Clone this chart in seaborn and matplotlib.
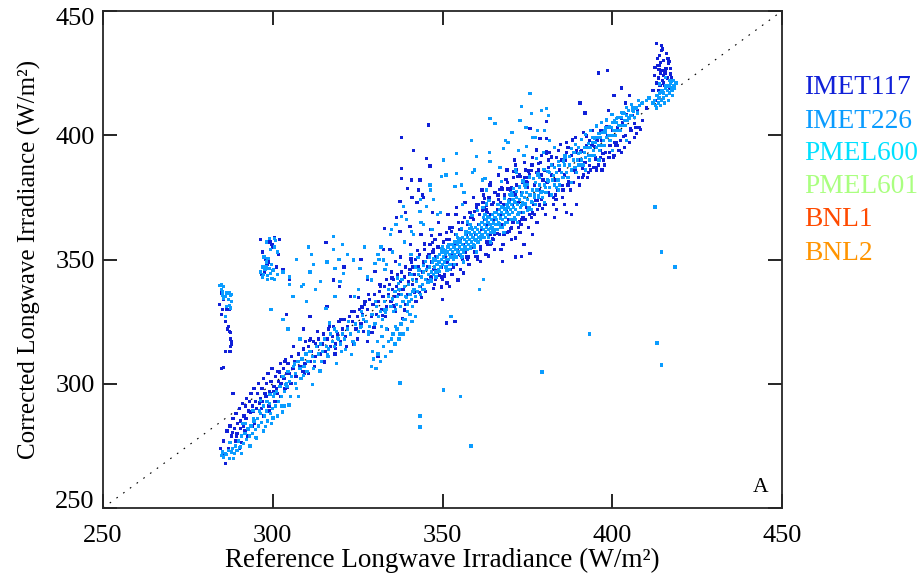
import pandas as pd
import matplotlib.pyplot as plt
import matplotlib.transforms as mtransforms
import seaborn as sns

series_names = ["IMET117", "IMET226", "PMEL600", "PMEL601", "BNL1", "BNL2"]
series_colors = ["#1020d8", "#0a9cff", "#00e0ff", "#aaff80", "#ff4a00", "#ff9400"]
axis_ticks = [250, 300, 350, 400, 450]

# values, dark instrument
imet117_x = [
    284.4, 284.9, 285.2, 285.6, 285.0, 286.4, 286.1, 287.3, 287.0, 286.6,
    287.6, 287.8, 287.5, 287.9, 287.2, 287.6, 287.4, 285.5, 284.9, 286.0,
    288.3, 284.7, 285.2, 285.6, 286.1, 286.5, 287.0, 287.4, 287.8, 288.3,
    288.7, 289.2, 289.6, 290.1, 290.5, 291.0, 291.4, 291.9, 292.3, 292.8,
    289.0, 289.5, 290.4, 291.3, 292.1, 293.2, 293.6, 294.1, 294.5, 295.0,
    295.4, 295.9, 296.3, 296.8, 297.2, 297.7, 298.1, 298.6, 299.0, 299.5,
    299.9, 300.4, 300.8, 301.3, 301.7, 302.2, 302.6, 303.1, 303.5, 304.0,
    294.4, 295.2, 296.1, 297.0, 298.0, 299.2, 300.2, 301.1, 302.4, 303.3,
    304.5, 305.0, 305.5, 306.0, 306.5, 307.0, 307.5, 308.0, 308.5, 309.0,
    309.5, 310.0, 310.5, 311.0, 311.5, 312.0, 312.5, 313.0, 313.5, 314.0,
    314.5, 315.0, 315.5, 316.0, 316.5, 317.0, 317.5, 318.0, 318.5, 319.0,
    319.5, 320.0, 320.5, 321.0, 321.5, 322.0, 322.5, 323.0, 323.5, 324.0,
    324.5, 325.0, 325.5, 326.0, 326.5, 327.0, 327.5, 328.0, 328.5, 329.0,
    329.5, 330.0, 330.5, 331.0, 331.5, 332.0, 332.5, 333.0, 333.5, 334.0,
    334.4, 334.8, 335.2, 335.6, 336.0, 336.4, 336.8, 337.2, 337.6, 338.0,
    338.4, 338.8, 339.2, 339.6, 340.0, 340.4, 340.8, 341.2, 341.6, 342.0,
    342.4, 342.8, 343.2, 343.6, 344.0, 344.4, 344.8, 345.2, 345.6, 346.0,
    346.3, 346.6, 346.9, 347.2, 347.5, 347.8, 348.1, 348.4, 348.7, 349.0,
    349.3, 349.6, 349.9, 350.2, 350.5, 350.8, 351.1, 351.4, 351.7, 352.0,
    352.3, 352.6, 352.9, 353.2, 353.5, 353.8, 354.1, 354.4, 354.7, 355.0,
    355.3, 355.6, 355.9, 356.2, 356.5, 356.8, 357.1, 357.4, 357.7, 358.0,
    358.3, 358.6, 358.9, 359.2, 359.5, 359.8, 360.1, 360.4, 360.7, 361.0,
    361.3, 361.6, 361.9, 362.2, 362.5, 362.8, 363.1, 363.4, 363.7, 364.0,
    364.3, 364.6, 364.9, 365.2, 365.5, 365.8, 366.1, 366.4, 366.7, 367.0,
    367.3, 367.6, 367.9, 368.2, 368.5, 368.8, 369.1, 369.4, 369.7, 370.0,
    370.3, 370.6, 370.9, 371.2, 371.5, 371.8, 372.1, 372.4, 372.7, 373.0,
    373.3, 373.6, 373.9, 374.2, 374.5, 374.8, 375.1, 375.4, 375.7, 376.0,
    376.4, 376.8, 377.2, 377.6, 378.0, 378.4, 378.8, 379.2, 379.6, 380.0,
    380.4, 380.8, 381.2, 381.6, 382.0, 382.4, 382.8, 383.2, 383.6, 384.0,
    384.5, 385.0, 385.5, 386.0, 386.5, 387.0, 387.5, 388.0, 388.5, 389.0,
    389.5, 390.0, 390.5, 391.0, 391.5, 392.0, 392.5, 393.0, 393.5, 394.0,
    394.5, 395.0, 395.5, 396.0, 396.5, 397.0, 397.5, 398.0, 398.5, 399.0,
    399.5, 400.0, 400.5, 401.0, 401.5, 402.0, 402.5, 403.0, 403.5, 404.0,
    404.5, 405.0, 405.5, 406.0, 406.5, 407.0, 407.5, 408.0, 409.0, 410.0,
    412.0, 412.5, 413.0, 413.3, 413.6, 413.9, 414.2, 414.5, 414.8, 415.1,
    415.4, 415.7, 416.0, 416.3, 416.6, 416.9, 417.2, 417.5, 412.8, 413.4,
    414.0, 414.6, 415.2, 415.8, 416.4, 414.1, 414.7, 415.0, 413.7, 415.5,
    # scatter above and below the band
    345.8, 338.0, 341.4, 338.0, 338.0, 345.3, 346.3, 343.4, 339.7, 342.9,
    337.5, 340.9, 333.0, 337.5, 340.4, 315.7, 332.6, 330.1, 317.8, 319.6,
    380.7, 378.7, 371.3, 380.7, 377.7, 370.9, 372.8, 375.8, 380.7, 375.8,
    373.3, 367.7, 353.7, 351.2, 396.0, 398.5, 402.8, 400.5, 405.0, 392.0,
    390.5, 388.0, 386.0, 383.0, 376.5, 374.0, 371.5, 369.0, 366.5, 364.0,
    362.0, 360.0, 358.0, 356.0, 354.0, 352.0, 350.0, 348.0, 344.5, 342.5,
    336.5, 334.5, 331.0, 328.0, 326.0, 323.0, 321.0, 297.0, 298.0, 299.2,
    300.0, 301.0, 296.5, 297.6, 298.6, 299.8, 301.6, 302.0, 296.8, 298.3,
    300.6, 297.4, 303.0, 305.0, 311.0, 316.0, 304.0, 309.0, 339.0, 341.0,
    344.0, 347.0, 383.5, 386.5, 389.5, 393.5, 397.0, 404.0, 387.0, 399.0,
    # second pass over the band, off the regular rows
    288.1, 293.4, 290.7, 296.2, 301.9, 298.8, 304.3, 291.6, 299.6, 306.7,
    303.8, 309.3, 312.7, 315.3, 310.8, 318.4, 320.9, 323.7, 326.3, 329.8,
    332.3, 327.2, 335.7, 333.4, 338.9, 341.7, 336.2, 340.2, 343.3, 345.9,
    342.7, 347.4, 349.1, 344.6, 351.3, 353.4, 346.8, 350.6, 355.2, 352.7,
    348.3, 354.9, 357.3, 359.4, 356.7, 361.2, 358.8, 360.6, 363.3, 365.4,
    362.4, 367.2, 364.8, 369.3, 366.2, 371.4, 368.7, 373.4, 370.2, 375.3,
    372.6, 377.3, 374.7, 379.4, 376.2, 381.3, 378.2, 383.4, 380.6, 385.3,
    382.2, 387.2, 384.7, 389.3, 386.3, 391.2, 388.4, 393.3, 390.8, 395.2,
    392.4, 397.3, 394.8, 399.2, 396.7, 401.2, 398.3, 403.3, 400.7, 405.3,
    402.8, 407.2, 404.3, 406.6, 408.4, 362.9, 364.4, 366.8, 368.3, 370.8,
    372.2, 374.4, 376.6, 378.6, 356.1, 358.4, 360.2, 352.1, 354.6, 349.7,
    347.1, 343.8, 340.7, 338.2, 335.1, 333.8, 331.7, 329.2, 327.8, 325.3,
    365.1, 367.7, 369.6, 371.7, 373.7, 375.6, 377.9, 363.6, 361.7, 359.9,
    413.1, 413.8, 414.3, 414.9, 415.3, 415.9, 416.2, 416.7, 417.1, 412.6,
    # third pass, the outer edges of the band
    289.4, 291.8, 293.9, 295.6, 297.4, 299.1, 300.7, 302.3, 290.2, 292.6,
    294.7, 296.6, 298.9, 301.4, 303.6, 305.4, 307.1, 308.9, 310.6, 312.3,
    306.2, 309.7, 311.2, 313.2, 315.1, 316.8, 318.3, 320.1, 321.7, 323.3,
    324.9, 326.7, 328.3, 329.9, 331.6, 333.3, 334.9, 336.1, 337.7, 339.1,
    340.6, 342.2, 343.7, 345.1, 346.4, 347.6, 348.9, 350.1, 351.6, 352.8,
    354.1, 355.4, 356.6, 357.8, 359.1, 360.3, 361.6, 362.8, 364.1, 365.3,
    366.6, 367.8, 369.1, 370.3, 371.6, 372.8, 374.1, 375.3, 376.6, 377.8,
    379.1, 380.3, 381.6, 382.8, 384.1, 385.3, 386.6, 387.8, 389.1, 390.3,
    391.6, 392.8, 394.1, 395.3, 396.6, 397.8, 399.1, 400.3, 401.6, 402.8,
    341.1, 343.4, 345.6, 347.3, 349.6, 351.1, 353.2, 355.1, 357.2, 359.1,
    361.1, 363.1, 365.1, 367.1, 369.1, 371.1, 373.1, 375.1, 377.1, 379.1,
    362.3, 364.2, 366.3, 368.1, 370.3, 372.3, 374.3, 376.3, 378.3, 380.2,
    381.2, 383.2, 385.2, 387.2, 389.2, 391.2, 393.2, 395.2, 397.2, 399.2,
]
imet117_y = [
    332.0, 336.5, 330.0, 334.0, 328.0, 330.0, 325.0, 330.0, 323.0, 322.0,
    320.5, 317.0, 318.0, 316.0, 321.0, 315.0, 313.0, 306.5, 306.0, 313.0,
    296.0, 274.0, 271.0, 277.0, 268.0, 281.0, 274.0, 283.0, 279.0, 286.0,
    282.0, 288.0, 284.0, 290.0, 285.0, 292.0, 287.0, 291.0, 294.0, 289.0,
    277.0, 280.0, 282.0, 283.0, 286.0, 293.0, 296.0, 291.0, 298.0, 293.0,
    296.0, 300.0, 294.0, 298.0, 302.0, 296.0, 300.0, 304.0, 297.0, 301.0,
    306.0, 299.0, 303.0, 305.0, 301.0, 308.0, 303.0, 306.0, 309.0, 304.0,
    289.0, 290.0, 292.0, 293.0, 295.0, 296.0, 297.0, 298.0, 300.0, 302.0,
    308.0, 304.0, 311.0, 306.0, 309.0, 303.0, 312.0, 307.0, 310.0, 314.0,
    308.0, 312.0, 315.0, 309.0, 313.0, 317.0, 311.0, 315.0, 318.0, 312.0,
    316.0, 320.0, 313.0, 318.0, 322.0, 315.0, 319.0, 323.0, 316.0, 320.0,
    325.0, 317.0, 322.0, 326.0, 319.0, 323.0, 327.0, 320.0, 325.0, 329.0,
    322.0, 327.0, 330.0, 324.0, 328.0, 332.0, 325.0, 330.0, 334.0, 327.0,
    332.0, 336.0, 328.0, 333.0, 337.0, 330.0, 335.0, 339.0, 331.0, 336.0,
    340.0, 333.0, 338.0, 342.0, 335.0, 339.0, 344.0, 336.0, 341.0, 345.0,
    338.0, 343.0, 347.0, 336.0, 341.0, 346.0, 349.0, 340.0, 344.0, 350.0,
    342.0, 347.0, 352.0, 339.0, 345.0, 349.0, 354.0, 342.0, 347.0, 352.0,
    356.0, 343.0, 349.0, 353.0, 346.0, 358.0, 351.0, 345.0, 355.0, 349.0,
    360.0, 347.0, 353.0, 357.0, 344.0, 351.0, 361.0, 349.0, 355.0, 358.0,
    346.0, 352.0, 363.0, 350.0, 356.0, 360.0, 348.0, 354.0, 365.0, 352.0,
    358.0, 362.0, 350.0, 356.0, 367.0, 353.0, 360.0, 364.0, 351.0, 358.0,
    369.0, 355.0, 362.0, 366.0, 353.0, 360.0, 371.0, 357.0, 364.0, 368.0,
    355.0, 362.0, 373.0, 359.0, 366.0, 370.0, 357.0, 364.0, 375.0, 360.0,
    368.0, 372.0, 358.0, 366.0, 377.0, 362.0, 370.0, 374.0, 360.0, 368.0,
    379.0, 364.0, 372.0, 376.0, 361.0, 370.0, 381.0, 366.0, 374.0, 378.0,
    363.0, 372.0, 383.0, 367.0, 376.0, 380.0, 365.0, 373.0, 384.0, 369.0,
    377.0, 381.0, 366.0, 375.0, 386.0, 371.0, 379.0, 383.0, 368.0, 376.0,
    388.0, 372.0, 380.0, 385.0, 370.0, 378.0, 389.0, 374.0, 382.0, 386.0,
    372.0, 381.0, 390.0, 376.0, 384.0, 388.0, 375.0, 382.0, 391.0, 378.0,
    386.0, 390.0, 378.0, 384.0, 393.0, 380.0, 388.0, 392.0, 381.0, 386.0,
    394.0, 383.0, 390.0, 394.0, 384.0, 389.0, 396.0, 385.0, 392.0, 396.0,
    387.0, 391.0, 398.0, 388.0, 394.0, 398.0, 390.0, 393.0, 400.0, 391.0,
    396.0, 402.0, 392.0, 396.0, 403.0, 394.0, 398.0, 405.0, 395.0, 400.0,
    406.0, 397.0, 402.0, 408.0, 399.0, 403.0, 410.0, 403.0, 406.0, 411.0,
    418.0, 424.0, 421.0, 428.0, 418.0, 432.0, 425.0, 436.0, 422.0, 430.0,
    420.0, 426.0, 433.0, 423.0, 429.0, 419.0, 427.0, 423.0, 414.0, 431.0,
    428.0, 434.0, 424.0, 427.0, 431.0, 420.0, 426.0, 421.0, 423.0, 425.0,
    404.1, 399.2, 393.8, 386.7, 382.7, 390.7, 387.6, 382.0, 378.7, 378.0,
    373.3, 382.0, 362.6, 361.2, 363.2, 356.9, 353.9, 345.1, 341.8, 339.1,
    398.8, 398.8, 390.0, 393.4, 394.1, 385.4, 383.3, 402.8, 405.5, 352.5,
    351.2, 349.2, 325.0, 324.4, 425.0, 426.0, 419.0, 416.0, 416.0, 409.0,
    413.0, 368.0, 372.0, 367.0, 360.0, 356.0, 351.0, 386.0, 376.0, 380.0,
    376.0, 372.0, 369.0, 365.0, 368.0, 339.0, 334.0, 342.0, 375.0, 373.0,
    367.0, 354.0, 311.0, 342.0, 350.0, 335.0, 347.0, 353.0, 350.0, 357.0,
    355.0, 347.0, 358.0, 345.0, 349.0, 356.0, 352.0, 358.0, 344.0, 348.0,
    359.0, 351.0, 346.0, 342.0, 327.0, 331.0, 328.0, 322.0, 369.0, 375.0,
    376.0, 369.0, 370.0, 369.0, 372.0, 386.0, 386.0, 413.0, 395.0, 410.0,
    280.5, 288.6, 276.4, 292.3, 304.7, 291.2, 298.4, 287.1, 306.1, 302.9,
    309.6, 304.1, 316.2, 308.8, 317.4, 314.1, 325.8, 315.7, 330.9, 322.6,
    327.4, 333.1, 331.3, 342.1, 329.7, 336.9, 349.3, 344.2, 336.6, 341.4,
    353.7, 338.4, 343.6, 356.2, 340.5, 347.9, 359.6, 343.1, 351.8, 361.3,
    345.7, 358.4, 349.9, 369.2, 353.8, 349.3, 367.5, 372.1, 356.1, 360.3,
    374.6, 353.9, 358.2, 378.4, 360.6, 358.7, 382.3, 366.1, 362.4, 385.6,
    365.3, 373.7, 381.2, 370.4, 385.9, 377.1, 388.7, 374.2, 392.6, 379.8,
    391.2, 381.4, 396.3, 384.9, 389.7, 386.6, 398.1, 387.8, 393.4, 390.3,
    399.7, 392.8, 395.6, 395.9, 401.8, 397.2, 403.4, 399.6, 397.1, 402.7,
    406.9, 400.8, 408.3, 404.7, 402.3, 371.6, 356.4, 378.2, 360.7, 364.8,
    383.4, 366.2, 368.7, 371.9, 344.6, 366.8, 351.3, 362.7, 341.8, 338.9,
    356.7, 334.8, 350.2, 326.4, 342.6, 321.8, 339.3, 320.7, 316.9, 334.6,
    372.9, 378.4, 361.2, 386.3, 366.8, 384.1, 373.6, 351.4, 369.7, 351.2,
    437.0, 426.6, 429.3, 434.7, 426.2, 432.8, 422.7, 429.8, 424.6, 427.4,
    279.0, 281.0, 283.0, 286.0, 287.0, 289.0, 293.0, 295.0, 274.0, 279.0,
    284.0, 290.0, 291.0, 296.0, 298.0, 300.0, 303.0, 305.0, 304.0, 307.0,
    315.0, 317.0, 318.0, 321.0, 309.0, 323.0, 312.0, 326.0, 315.0, 329.0,
    318.0, 321.0, 336.0, 323.0, 340.0, 327.0, 345.0, 329.0, 351.0, 332.0,
    356.0, 333.0, 360.0, 337.0, 362.0, 340.0, 365.0, 342.0, 368.0, 344.0,
    371.0, 346.0, 373.0, 348.0, 375.0, 350.0, 378.0, 352.0, 381.0, 354.0,
    384.0, 356.0, 386.0, 358.0, 388.0, 361.0, 389.0, 363.0, 391.0, 365.0,
    392.0, 368.0, 393.0, 372.0, 394.0, 375.0, 397.0, 378.0, 399.0, 380.0,
    401.0, 383.0, 402.0, 386.0, 391.0, 388.0, 393.0, 391.0, 396.0, 393.0,
    347.0, 339.0, 351.0, 354.0, 343.0, 358.0, 347.0, 362.0, 351.0, 366.0,
    354.0, 369.0, 358.0, 373.0, 361.0, 377.0, 364.0, 381.0, 368.0, 384.0,
    371.0, 356.0, 376.0, 360.0, 379.0, 363.0, 383.0, 367.0, 386.0, 372.0,
    387.0, 376.0, 390.0, 380.0, 393.0, 383.0, 398.0, 387.0, 402.0, 391.0,
]

# lighter instrument, drawn on top of the dark one
imet226_x = [
    285.0, 285.3, 285.6, 286.0, 286.4, 286.9, 287.3, 287.8, 288.2, 288.7,
    289.1, 289.5, 290.0, 290.4, 290.9, 291.3, 291.8, 292.2, 292.7, 293.1,
    293.6, 294.0, 294.5, 294.9, 295.4, 295.8, 296.3, 296.7, 297.2, 297.6,
    298.1, 298.5, 299.0, 299.4, 299.9, 300.3, 300.8, 301.2, 301.7, 302.1,
    302.6, 303.0, 303.5, 304.0, 304.5, 305.0, 305.6, 306.2, 306.8, 307.4,
    308.0, 308.6, 309.2, 309.8, 310.4, 311.0, 311.6, 312.2, 312.8, 313.4,
    314.0, 314.6, 315.2, 315.8, 316.4, 317.0, 317.6, 318.2, 318.8, 319.4,
    320.0, 320.6, 321.2, 322.0, 322.8, 323.6, 324.4, 325.2, 326.0, 326.8,
    327.6, 328.4, 329.2, 330.0, 330.6, 331.2, 331.8, 332.4, 333.0, 333.6,
    334.2, 334.8, 335.2, 335.6, 336.0, 336.4, 336.8, 337.2, 337.6, 338.0,
    338.4, 338.8, 339.2, 339.6, 340.0, 340.4, 340.8, 341.2, 341.6, 342.0,
    342.3, 342.6, 342.9, 343.2, 343.5, 343.8, 344.1, 344.4, 344.7, 345.0,
    345.3, 345.6, 345.9, 346.2, 346.5, 346.8, 347.1, 347.4, 347.7, 348.0,
    348.2, 348.4, 348.6, 348.8, 349.0, 349.2, 349.4, 349.6, 349.8, 350.0,
    350.2, 350.4, 350.6, 350.8, 351.0, 351.2, 351.4, 351.6, 351.8, 352.0,
    352.2, 352.4, 352.6, 352.8, 353.0, 353.2, 353.4, 353.6, 353.8, 354.0,
    354.2, 354.4, 354.6, 354.8, 355.0, 355.2, 355.4, 355.6, 355.8, 356.0,
    356.2, 356.4, 356.6, 356.8, 357.0, 357.2, 357.4, 357.6, 357.8, 358.0,
    358.2, 358.4, 358.6, 358.8, 359.0, 359.2, 359.4, 359.6, 359.8, 360.0,
    360.2, 360.4, 360.6, 360.8, 361.0, 361.2, 361.4, 361.6, 361.8, 362.0,
    362.2, 362.4, 362.6, 362.8, 363.0, 363.2, 363.4, 363.6, 363.8, 364.0,
    364.2, 364.4, 364.6, 364.8, 365.0, 365.2, 365.4, 365.6, 365.8, 366.0,
    366.2, 366.4, 366.6, 366.8, 367.0, 367.2, 367.4, 367.6, 367.8, 368.0,
    368.2, 368.4, 368.6, 368.8, 369.0, 369.2, 369.4, 369.6, 369.8, 370.0,
    370.2, 370.4, 370.6, 370.8, 371.0, 371.2, 371.4, 371.6, 371.8, 372.0,
    372.3, 372.6, 372.9, 373.2, 373.5, 373.8, 374.1, 374.4, 374.7, 375.0,
    375.4, 375.8, 376.2, 376.6, 377.0, 377.4, 377.8, 378.2, 378.6, 379.0,
    379.5, 380.0, 380.5, 381.0, 381.5, 382.0, 382.5, 383.0, 383.5, 384.0,
    384.5, 385.0, 385.5, 386.0, 386.5, 387.0, 387.5, 388.0, 388.5, 389.0,
    389.4, 389.8, 390.2, 390.6, 391.0, 391.4, 391.8, 392.2, 392.6, 393.0,
    393.3, 393.6, 393.9, 394.2, 394.5, 394.8, 395.1, 395.4, 395.7, 396.0,
    396.3, 396.6, 396.9, 397.2, 397.5, 397.8, 398.1, 398.4, 398.7, 399.0,
    399.3, 399.6, 399.9, 400.2, 400.5, 400.8, 401.1, 401.4, 401.7, 402.0,
    402.3, 402.6, 402.9, 403.2, 403.5, 403.8, 404.1, 404.4, 404.7, 405.0,
    405.5, 406.0, 406.5, 407.0, 407.5, 408.0, 409.0, 410.0, 411.0, 412.0,
    412.4, 412.8, 413.2, 413.6, 414.0, 414.4, 414.8, 415.2, 415.6, 416.0,
    416.4, 416.8, 417.2, 417.6, 418.0, 418.4, 418.8, 413.0, 414.2, 415.4,
    416.6, 417.8, 413.8, 415.0, 416.2, 417.4, 414.6, 415.8, 417.0, 418.2,
    # low arm under the band
    329.0, 329.6, 330.4, 331.0, 331.8, 332.6, 333.2, 334.0, 334.8, 335.4,
    336.0, 336.6, 337.2, 337.8, 338.4, 339.0, 339.6, 340.4, 341.0, 329.4,
    330.8, 332.2, 333.6, 335.0, 336.2, 337.4, 338.6, 339.8, 341.2, 342.0,
    # scatter above the band
    375.8, 373.3, 380.7, 364.0, 365.5, 372.8, 376.3, 379.2, 381.2, 358.6,
    354.2, 350.2, 354.2, 360.0, 364.0, 367.9, 372.3, 374.8, 377.7, 362.5,
    367.4, 349.7, 346.3, 353.7, 347.3, 338.5, 338.0, 343.4, 345.3, 340.9,
    317.8, 317.8, 318.3, 320.8, 325.7, 323.7, 332.6, 330.1, 319.8, 325.2,
    329.1, 318.3, 315.7, 316.8, 307.0, 310.5, 312.0, 305.0, 303.0, 308.5,
    300.5, 298.5, 297.0, 301.5, 305.0, 306.0, 309.0, 310.0, 312.5, 311.0,
    314.0, 304.5, 303.0, 299.5, 298.0, 308.0, 311.5, 316.0, 319.5, 320.5,
    322.0, 324.0, 327.0, 328.0, 331.0, 333.5, 335.0, 339.5, 341.5, 343.5,
    344.5, 346.5, 348.5, 351.0, 356.0, 355.5, 359.5, 363.0, 368.5, 370.5,
    371.5, 374.0, 376.5, 378.0, 380.0, 381.5, 383.0, 362.0, 361.0, 352.5,
    # stray points in the lower right
    412.6, 414.4, 418.5, 393.4, 413.2, 414.4, 379.3, 337.5, 350.4, 355.4,
    358.4, 343.4, 343.4,
    # second pass over the band, off the regular rows
    287.4, 290.3, 292.9, 295.1, 291.1, 297.9, 294.2, 300.1, 296.5, 302.8,
    299.2, 304.8, 303.7, 307.6, 309.1, 311.7, 306.3, 313.9, 316.1, 318.7,
    321.4, 319.1, 323.2, 325.8, 328.1, 326.4, 330.3, 332.9, 335.3, 333.2,
    337.1, 339.4, 336.7, 341.3, 343.1, 340.7, 344.9, 346.6, 342.8, 348.1,
    350.3, 347.9, 351.7, 353.3, 349.7, 355.1, 352.3, 356.9, 354.3, 358.3,
    355.7, 359.9, 357.3, 361.1, 358.7, 362.7, 360.3, 364.1, 361.9, 365.3,
    362.9, 366.3, 363.7, 367.1, 364.9, 368.3, 365.7, 369.1, 366.7, 370.3,
    367.9, 371.1, 368.7, 372.1, 369.9, 373.3, 370.9, 374.3, 371.7, 375.1,
    372.7, 376.3, 373.7, 377.1, 374.9, 378.3, 375.7, 379.3, 376.9, 380.3,
    378.1, 381.3, 379.9, 382.7, 381.1, 384.3, 382.9, 385.7, 384.1, 387.3,
    386.1, 388.7, 387.9, 390.1, 389.1, 391.9, 390.9, 393.1, 392.1, 394.7,
    393.7, 396.1, 395.3, 397.9, 396.9, 399.1, 398.3, 400.7, 399.9, 402.1,
    401.3, 403.7, 402.7, 404.9, 404.3, 406.3, 405.7, 407.7, 408.7, 410.7,
    413.9, 414.7, 415.7, 416.7, 417.3, 367.3, 365.1, 369.5, 371.3, 363.3,
    351.3, 353.7, 355.9, 357.9, 359.3, 347.3, 345.7, 344.3, 349.1, 350.9,
    # third pass, the outer edges of the band
    288.4, 290.8, 293.3, 295.3, 297.3, 299.6, 301.3, 303.3, 305.3, 307.1,
    292.0, 294.3, 296.1, 298.3, 300.6, 302.7, 304.2, 306.6, 308.3, 310.1,
    312.1, 314.3, 316.3, 318.1, 320.3, 322.3, 324.1, 326.1, 328.3, 330.2,
    332.1, 334.1, 336.1, 338.1, 340.1, 342.1, 344.1, 346.1, 348.1, 350.1,
    352.1, 354.1, 356.1, 358.1, 360.1, 362.1, 364.1, 366.1, 368.1, 370.1,
    372.1, 374.1, 376.1, 378.1, 380.1, 382.1, 384.1, 386.1, 388.1, 390.1,
    392.1, 394.1, 396.1, 398.1, 400.1, 402.1, 404.1, 406.1, 340.7, 337.3,
    335.3, 333.1, 331.3, 334.7, 336.3, 331.9, 338.7, 343.7, 346.9, 349.4,
    356.3, 358.9, 361.7, 363.9, 366.9, 369.3, 371.9, 374.6, 377.3, 379.7,
    353.5, 355.5, 357.5, 359.5, 361.5, 363.5, 365.5, 367.5, 369.5, 371.5,
    373.5, 375.5, 377.5, 379.5, 381.5, 383.5, 354.5, 356.5, 358.5, 360.5,
    362.5, 364.5, 366.5, 368.5, 370.5, 372.5, 374.5, 376.5, 378.5, 380.5,
]
imet226_y = [
    271.0, 272.5, 270.5, 272.0, 271.5, 273.0, 270.0, 272.5, 274.0, 272.0,
    275.0, 273.0, 277.0, 274.5, 279.0, 276.0, 280.0, 277.5, 282.0, 279.0,
    283.0, 280.0, 285.0, 281.5, 286.0, 283.0, 288.0, 284.5, 291.0, 287.0,
    289.0, 285.0, 292.0, 288.0, 290.0, 295.0, 291.0, 297.0, 293.0, 299.0,
    295.0, 303.0, 297.0, 300.0, 305.0, 301.0, 303.0, 307.0, 304.0, 309.0,
    306.0, 310.0, 307.0, 312.0, 309.0, 313.0, 311.0, 309.0, 315.0, 312.0,
    316.0, 313.0, 318.0, 315.0, 314.0, 320.0, 317.0, 315.0, 321.0, 318.0,
    316.0, 320.0, 318.0, 322.0, 320.0, 317.0, 324.0, 321.0, 323.0, 326.0,
    325.0, 323.0, 328.0, 324.0, 331.0, 327.0, 329.0, 326.0, 333.0, 330.0,
    335.0, 331.0, 334.0, 329.0, 337.0, 332.0, 335.0, 338.0, 331.0, 336.0,
    333.0, 339.0, 335.0, 332.0, 340.0, 336.0, 334.0, 342.0, 338.0, 335.0,
    341.0, 337.0, 344.0, 339.0, 336.0, 343.0, 340.0, 345.0, 338.0, 342.0,
    346.0, 341.0, 344.0, 347.0, 342.0, 345.0, 349.0, 344.0, 347.0, 350.0,
    345.0, 348.0, 351.0, 346.0, 349.0, 352.0, 347.0, 350.0, 353.0, 348.0,
    351.0, 354.0, 349.0, 352.0, 347.0, 350.0, 353.0, 355.0, 350.0, 352.0,
    348.0, 354.0, 351.0, 356.0, 353.0, 350.0, 355.0, 352.0, 357.0, 354.0,
    351.0, 356.0, 353.0, 358.0, 355.0, 352.0, 357.0, 354.0, 359.0, 356.0,
    353.0, 358.0, 355.0, 360.0, 357.0, 354.0, 359.0, 356.0, 361.0, 358.0,
    355.0, 360.0, 357.0, 362.0, 359.0, 356.0, 361.0, 358.0, 363.0, 360.0,
    357.0, 362.0, 359.0, 364.0, 361.0, 358.0, 363.0, 360.0, 365.0, 362.0,
    359.0, 364.0, 361.0, 366.0, 363.0, 360.0, 365.0, 362.0, 367.0, 364.0,
    361.0, 366.0, 363.0, 368.0, 365.0, 362.0, 367.0, 364.0, 369.0, 366.0,
    362.0, 368.0, 365.0, 370.0, 367.0, 363.0, 369.0, 366.0, 371.0, 368.0,
    364.0, 370.0, 367.0, 372.0, 369.0, 365.0, 371.0, 368.0, 373.0, 370.0,
    366.0, 372.0, 369.0, 374.0, 371.0, 367.0, 373.0, 370.0, 375.0, 372.0,
    368.0, 374.0, 371.0, 376.0, 373.0, 369.0, 375.0, 372.0, 377.0, 374.0,
    371.0, 376.0, 373.0, 378.0, 375.0, 372.0, 378.0, 375.0, 380.0, 377.0,
    375.0, 380.0, 377.0, 382.0, 379.0, 376.0, 382.0, 380.0, 385.0, 382.0,
    380.0, 385.0, 383.0, 388.0, 385.0, 383.0, 388.0, 386.0, 390.0, 387.0,
    385.0, 390.0, 388.0, 393.0, 390.0, 388.0, 393.0, 391.0, 395.0, 392.0,
    390.0, 395.0, 392.0, 397.0, 394.0, 392.0, 397.0, 395.0, 399.0, 396.0,
    394.0, 399.0, 396.0, 401.0, 398.0, 396.0, 401.0, 399.0, 403.0, 400.0,
    398.0, 403.0, 400.0, 405.0, 402.0, 400.0, 405.0, 402.0, 407.0, 404.0,
    402.0, 407.0, 404.0, 409.0, 406.0, 404.0, 408.0, 406.0, 410.0, 407.0,
    408.0, 410.0, 407.0, 411.0, 409.0, 412.0, 413.0, 414.0, 415.0, 413.0,
    414.0, 412.0, 416.0, 413.0, 417.0, 414.0, 418.0, 415.0, 419.0, 416.0,
    420.0, 417.0, 421.0, 418.0, 422.0, 419.0, 421.0, 411.0, 412.0, 413.0,
    414.0, 416.0, 415.0, 417.0, 418.0, 419.0, 418.0, 420.0, 422.0, 420.0,
    307.0, 310.0, 306.0, 312.0, 309.0, 315.0, 311.0, 317.0, 313.0, 320.0,
    316.0, 322.0, 318.0, 324.0, 320.0, 326.0, 322.0, 328.0, 325.0, 313.0,
    317.0, 319.0, 322.0, 318.0, 323.0, 320.0, 326.0, 329.0, 331.0, 327.0,
    416.8, 411.5, 410.8, 406.8, 404.8, 406.0, 408.8, 410.0, 408.0, 398.0,
    392.7, 390.0, 384.7, 391.4, 389.4, 394.7, 394.0, 395.4, 390.7, 382.7,
    381.3, 383.3, 380.0, 379.3, 374.0, 371.3, 367.3, 369.3, 371.3, 361.2,
    359.2, 353.9, 346.5, 344.5, 346.5, 349.8, 349.8, 348.5, 341.1, 337.8,
    341.8, 335.0, 330.4, 324.4, 350.0, 355.0, 348.0, 343.0, 345.0, 339.0,
    358.5, 342.0, 343.0, 344.0, 340.0, 335.0, 340.0, 333.0, 338.0, 345.0,
    341.0, 322.0, 326.0, 330.0, 347.0, 318.0, 352.0, 349.0, 350.0, 356.0,
    352.0, 335.0, 355.0, 343.0, 352.0, 348.0, 362.0, 366.0, 360.0, 374.0,
    364.0, 378.0, 368.0, 384.0, 372.0, 380.0, 386.0, 378.0, 398.0, 401.0,
    386.0, 392.0, 399.0, 402.0, 402.0, 398.0, 395.0, 342.0, 338.0, 327.0,
    371.1, 353.0, 347.0, 320.0, 316.4, 307.5, 304.7, 300.3, 297.5, 295.0,
    275.0, 287.0, 282.6,
    276.3, 274.2, 281.8, 278.4, 284.1, 282.7, 289.3, 286.2, 293.4, 288.6,
    295.7, 291.4, 299.8, 294.8, 303.2, 299.6, 307.9, 305.1, 311.6, 308.2,
    313.9, 318.4, 311.7, 322.6, 320.9, 327.4, 324.2, 329.7, 334.1, 328.6,
    340.3, 334.7, 342.6, 337.2, 345.8, 343.9, 349.1, 341.3, 350.7, 345.2,
    352.9, 349.6, 356.1, 350.8, 354.4, 358.6, 351.3, 361.2, 356.7, 354.3,
    362.4, 357.6, 365.1, 359.4, 367.8, 361.2, 369.6, 362.4, 370.9, 360.8,
    372.3, 364.1, 373.8, 366.7, 362.2, 374.6, 366.9, 371.7, 364.3, 376.9,
    368.2, 373.1, 370.4, 368.1, 376.3, 371.6, 378.7, 372.3, 377.4, 369.8,
    379.2, 373.4, 381.6, 376.1, 380.3, 375.8, 383.2, 377.4, 382.6, 379.1,
    384.7, 381.6, 386.2, 383.9, 385.4, 387.8, 387.1, 389.6, 389.3, 391.4,
    391.7, 393.2, 394.6, 392.8, 396.3, 395.1, 398.4, 396.7, 400.2, 398.9,
    401.8, 400.6, 403.7, 401.9, 405.2, 403.4, 406.1, 405.8, 408.3, 407.2,
    406.8, 408.9, 409.3, 406.6, 411.2, 409.7, 412.4, 414.1, 412.8, 415.3,
    420.6, 417.4, 423.1, 419.7, 421.8, 371.4, 364.7, 373.8, 366.2, 367.1,
    345.8, 357.2, 351.3, 362.6, 355.7, 350.3, 340.8, 347.6, 345.2, 353.4,
    270.0, 272.0, 275.0, 278.0, 281.0, 284.0, 287.0, 291.0, 295.0, 298.0,
    284.0, 286.0, 289.0, 293.0, 296.0, 291.0, 299.0, 300.0, 302.0, 305.0,
    306.0, 309.0, 311.0, 322.0, 313.0, 325.0, 316.0, 329.0, 320.0, 333.0,
    323.0, 338.0, 330.0, 342.0, 333.0, 347.0, 338.0, 351.0, 343.0, 355.0,
    346.0, 360.0, 349.0, 364.0, 353.0, 367.0, 357.0, 372.0, 361.0, 376.0,
    365.0, 380.0, 370.0, 384.0, 373.0, 388.0, 378.0, 391.0, 381.0, 395.0,
    386.0, 399.0, 390.0, 403.0, 394.0, 407.0, 398.0, 411.0, 352.0, 348.0,
    353.0, 346.0, 350.0, 360.0, 364.0, 355.0, 357.0, 365.0, 362.0, 369.0,
    377.0, 385.0, 382.0, 393.0, 387.0, 397.0, 385.0, 403.0, 399.0, 393.0,
    348.0, 351.0, 361.0, 355.0, 365.0, 359.0, 369.0, 363.0, 373.0, 366.0,
    377.0, 371.0, 381.0, 375.0, 385.0, 379.0, 359.0, 354.0, 363.0, 357.0,
    368.0, 361.0, 372.0, 365.0, 376.0, 369.0, 379.0, 373.0, 383.0, 377.0,
]
# the column of points at the far left, and the patch around x = 300
left_x = [
    284.5, 284.8, 285.1, 285.0, 285.3, 285.6, 285.4, 286.0, 286.5, 287.0,
    287.6, 287.9, 287.5, 287.8, 287.2, 286.3, 285.1, 286.0, 287.3, 296.5,
    296.9, 297.3, 297.7, 298.1, 298.5, 298.9, 299.3, 299.7, 300.1, 300.5,
    300.9, 301.3, 297.4, 298.2, 299.0, 299.8, 300.6, 298.6, 299.4, 300.2,
]
left_y = [
    339.5, 338.0, 337.0, 340.0, 336.0, 334.5, 339.0, 335.0, 336.5, 334.0,
    335.5, 333.0, 330.5, 336.0, 336.5, 331.0, 335.5, 327.0, 331.5, 345.0,
    347.0, 344.0, 346.0, 349.0, 343.5, 346.5, 344.5, 348.0, 345.5, 355.0,
    357.5, 353.0, 351.0, 357.0, 358.5, 342.5, 342.0, 350.5, 354.0, 346.0,
]

instrument = ["IMET117"] * len(imet117_x) + ["IMET226"] * (len(imet226_x) + len(left_x))
df = pd.DataFrame({
    "reference": imet117_x + imet226_x + left_x,
    "corrected": imet117_y + imet226_y + left_y,
    "instrument": instrument,
})

sns.set_theme(style="ticks")
plt.rcParams["font.family"] = ["Liberation Serif", "DejaVu Serif"]
plt.rcParams["axes.linewidth"] = 1.3

fig, ax = plt.subplots(figsize=(9.23, 5.77), dpi=100)
fig.subplots_adjust(left=103 / 923, right=782 / 923, top=1 - 11 / 577, bottom=1 - 508 / 577)

# dotted 1:1 line goes underneath
sns.lineplot(x=[axis_ticks[0], axis_ticks[-1]], y=[axis_ticks[0], axis_ticks[-1]],
             color="black", linewidth=0.8, linestyle=(0, (1.5, 6)), ax=ax, zorder=1)
sns.scatterplot(data=df, x="reference", y="corrected", hue="instrument",
                palette=dict(zip(series_names, series_colors)), marker="s", s=5.5,
                linewidth=0, legend=False, ax=ax, zorder=2)

ax.set_xlim(axis_ticks[0], axis_ticks[-1])
ax.set_ylim(axis_ticks[0], axis_ticks[-1])
ax.set_xticks(axis_ticks)
ax.set_yticks(axis_ticks)
ax.tick_params(direction="in", length=10, width=1.2, labelsize=19, top=True, right=True,
               colors="black")
ax.tick_params(axis="x", pad=12)
ax.tick_params(axis="y", pad=6)
# the end labels on the y axis sit inside the axis range
y_labels = ax.get_yticklabels()
y_labels[0].set_va("bottom")
y_labels[0].set_transform(y_labels[0].get_transform()
                          + mtransforms.ScaledTranslation(0, -0.05, fig.dpi_scale_trans))
y_labels[-1].set_va("top")
y_labels[-1].set_transform(y_labels[-1].get_transform()
                           + mtransforms.ScaledTranslation(0, 0.03, fig.dpi_scale_trans))
ax.set_xlabel("Reference Longwave Irradiance (W/m²)", fontsize=19.5, labelpad=1, color="black")
ax.set_ylabel("Corrected Longwave Irradiance (W/m²)", fontsize=18, labelpad=10, color="black")
fig.text(761 / 923, 1 - 488 / 577, "A", fontsize=15.5, ha="center", va="center", color="black")

# instrument names stand in for a legend
for i, (name, color) in enumerate(zip(series_names, series_colors)):
    fig.text(804 / 923, 1 - (88 + i * 33) / 577, name, color=color, fontsize=19.7,
             ha="left", va="center")

plt.savefig("out.png", dpi=100)
